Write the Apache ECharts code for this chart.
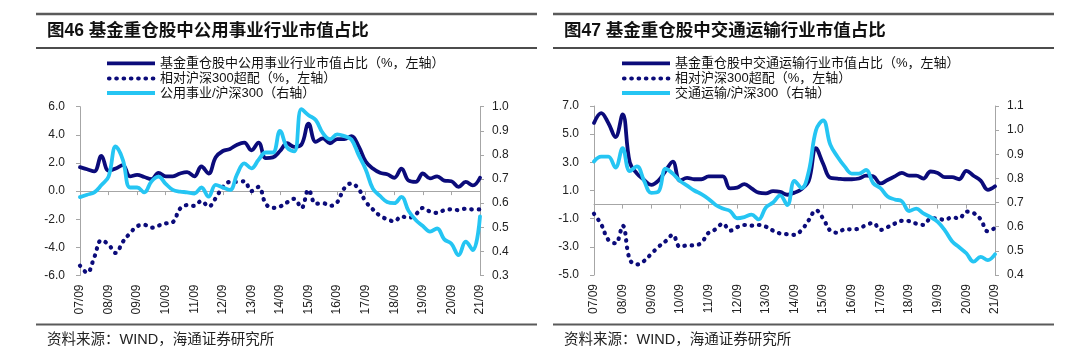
<!DOCTYPE html>
<html><head><meta charset="utf-8">
<script src="https://cdn.jsdelivr.net/npm/echarts@6/dist/echarts.min.js"></script>
<style>html,body{margin:0;padding:0;background:#fff;}#c{width:1080px;height:355px;}</style>
</head><body><div id="c"></div>
<script>
// ---------- DATA ----------
const quarters = ['07/09','07/12','08/03','08/06','08/09','08/12','09/03','09/06','09/09','09/12',
'10/03','10/06','10/09','10/12','11/03','11/06','11/09','11/12','12/03','12/06','12/09','12/12',
'13/03','13/06','13/09','13/12','14/03','14/06','14/09','14/12','15/03','15/06','15/09','15/12',
'16/03','16/06','16/09','16/12','17/03','17/06','17/09','17/12','18/03','18/06','18/09','18/12',
'19/03','19/06','19/09','19/12','20/03','20/06','20/09','20/12','21/03','21/06','21/09'];

// 图46 公用事业
const utilShare = [1.7,1.55,1.4,2.5,1.45,1.6,1.85,1.05,1.15,1.0,0.85,1.3,1.05,1.05,1.25,1.35,1.05,1.75,1.25,2.4,
2.85,3.0,3.3,3.45,2.9,3.45,2.35,2.4,2.85,3.4,3.15,3.3,4.8,3.5,3.75,3.4,3.7,3.7,3.9,3.2,
2.1,1.6,1.3,1.2,0.95,1.6,0.75,0.65,1.25,0.9,1.05,0.75,0.7,0.3,0.65,0.4,0.95];
const utilRelative = [-5.3,-5.8,-4.7,-3.5,-3.8,-4.4,-3.6,-3.0,-2.5,-2.4,-2.6,-2.45,-2.3,-2.2,-1.25,-1.0,-1.05,-0.7,-1.1,-0.5,
0.3,0.65,0.65,0.7,0.0,0.3,-0.9,-1.2,-1.1,-0.8,-0.55,-1.2,0.1,-0.9,-0.85,-1.05,-0.8,0.2,0.55,0.15,
-0.75,-1.3,-1.75,-2.0,-2.15,-1.8,-1.9,-1.65,-1.2,-1.45,-1.55,-1.35,-1.3,-1.35,-1.25,-1.3,-1.3];
const utilRatio = [0.625,0.635,0.645,0.675,0.71,0.835,0.78,0.665,0.665,0.645,0.69,0.71,0.68,0.655,0.648,0.645,0.64,0.665,0.627,0.676,
0.665,0.655,0.72,0.765,0.744,0.78,0.81,0.81,0.9,0.83,0.815,0.99,0.965,0.945,0.89,0.865,0.885,0.878,0.864,0.80,
0.74,0.66,0.63,0.605,0.6,0.626,0.568,0.53,0.505,0.482,0.495,0.45,0.432,0.385,0.44,0.405,0.545];

// 图47 交通运输
const transShare = [5.8,6.5,5.8,4.8,6.4,3.0,2.2,1.75,1.4,1.7,2.4,3.05,1.7,1.9,1.8,1.8,2.0,2.0,2.0,1.15,
1.2,1.45,1.15,0.85,0.8,0.95,0.9,0.7,0.85,1.1,1.7,4.0,2.9,1.9,1.85,1.8,1.8,1.85,2.05,2.0,
1.5,1.75,2.0,2.25,2.05,2.05,1.85,2.35,2.25,1.95,1.95,1.8,2.4,2.05,1.7,1.05,1.3];
const transRelative = [-0.65,-1.4,-2.5,-2.75,-1.5,-3.9,-4.25,-4.0,-3.5,-3.0,-2.6,-2.15,-3.0,-2.9,-2.9,-2.7,-2.0,-1.75,-1.35,-1.85,
-1.6,-1.45,-1.5,-1.45,-1.57,-1.85,-2.05,-2.1,-2.15,-1.8,-1.1,-0.4,-1.0,-1.85,-2.0,-1.76,-1.76,-1.7,-1.45,-1.3,
-1.8,-1.6,-1.35,-1.15,-1.17,-1.35,-1.45,-1.0,-0.98,-1.1,-0.9,-0.98,-0.5,-0.6,-1.05,-1.9,-1.65];
const transRatio = [0.87,0.89,0.89,0.845,0.925,0.83,0.85,0.79,0.74,0.745,0.84,0.82,0.79,0.77,0.75,0.735,0.715,0.69,0.675,0.665,
0.635,0.64,0.65,0.63,0.68,0.70,0.73,0.69,0.79,0.76,0.83,1.0,1.04,0.94,0.89,0.85,0.82,0.82,0.835,0.78,
0.76,0.725,0.713,0.705,0.665,0.675,0.655,0.64,0.62,0.585,0.54,0.515,0.49,0.455,0.475,0.462,0.486];

const ticksLeftB = [-5,-3,-1,1,3,5,7];

// ---------- STYLE ----------
const NAVY = '#0b0b7a';
const CYAN = '#25c5f3';
const AXIS = '#a6a6a6';
const LATIN = "'Liberation Sans','Noto Sans CJK SC',sans-serif";

const chart = echarts.init(document.getElementById('c'), null, {renderer:'canvas'});

function xAxes(g, onZeroIdx){
  return [
    {gridIndex:g, type:'category', data:quarters, boundaryGap:false, position:'bottom',
     axisLine:{show:false, onZero:false}, axisTick:{show:false},
     axisLabel:{interval:3, rotate:90, margin:9, fontSize:12, color:'#222', fontFamily:LATIN}},
    {gridIndex:g, type:'category', data:quarters, boundaryGap:false, position:'bottom',
     axisLine:{show:true, onZero:true, onZeroAxisIndex:onZeroIdx, lineStyle:{color:AXIS, width:1}},
     axisTick:{show:true, interval:3, length:4, lineStyle:{color:AXIS}},
     axisLabel:{show:false}, splitLine:{show:false}}
  ];
}
function yAxis(g, pos, min, max, interval, margin, custom){
  const a = {gridIndex:g, type:'value', position:pos, min:min, max:max, interval:interval,
    axisLine:{show:true, lineStyle:{color:AXIS, width:1}},
    axisTick:{show:true, length:4, lineStyle:{color:AXIS}},
    splitLine:{show:false},
    axisLabel:{margin:margin, fontSize:12, color:'#222', fontFamily:LATIN,
      formatter:function(v){return (Math.round(v*10)/10).toFixed(1);}}};
  if (custom){ a.axisLabel.customValues = custom; a.axisTick.customValues = custom; }
  return a;
}
function solid(data, xi, yi, color){
  return {type:'line', data:data, xAxisIndex:xi, yAxisIndex:yi, symbol:'none', smooth:0.4,
    lineStyle:{color:color, width:3.8, cap:'round', join:'round'}};
}
function dotted(data, xi, yi){
  return {type:'line', data:data, xAxisIndex:xi, yAxisIndex:yi, symbol:'none', smooth:0.4,
    lineStyle:{color:NAVY, width:4.2, type:[0.5,6.8], cap:'round'}};
}

function panel(ox, title, legendTexts, lx){
  const els = [];
  els.push({type:'line', shape:{x1:ox, y1:14, x2:ox+501, y2:14}, style:{stroke:'#5a5a5a', lineWidth:2.5}});
  els.push({type:'line', shape:{x1:ox, y1:48, x2:ox+501, y2:48}, style:{stroke:'#111', lineWidth:1.4}});
  els.push({type:'line', shape:{x1:ox, y1:324.5, x2:ox+501, y2:324.5}, style:{stroke:'#5a5a5a', lineWidth:2}});
  els.push({type:'text', x:ox+11, y:31.5, style:{text:title, font:"bold 17.5px "+LATIN, fill:'#111', align:'left', verticalAlign:'middle'}});
  els.push({type:'text', x:ox+11, y:339.5, style:{text:'资料来源：WIND，海通证券研究所', font:"14.5px "+LATIN, fill:'#222', align:'left', verticalAlign:'middle'}});
  const rows = [63.3, 78.5, 93];
  els.push({type:'line', shape:{x1:lx, y1:rows[0], x2:lx+48, y2:rows[0]}, style:{stroke:NAVY, lineWidth:3.8}});
  els.push({type:'line', shape:{x1:lx+2, y1:rows[1], x2:lx+48, y2:rows[1]}, style:{stroke:NAVY, lineWidth:4.2, lineDash:[0.5,6.8], lineCap:'round'}});
  els.push({type:'line', shape:{x1:lx, y1:rows[2], x2:lx+48, y2:rows[2]}, style:{stroke:CYAN, lineWidth:3.8}});
  for (let i=0;i<3;i++){
    els.push({type:'text', x:lx+53, y:rows[i], style:{text:legendTexts[i], font:"13px "+LATIN, fill:'#111', align:'left', verticalAlign:'middle'}});
  }
  return els;
}

const graphics = [].concat(
  panel(36, '图46 基金重仓股中公用事业行业市值占比',
    ['基金重仓股中公用事业行业市值占比（%，左轴）','相对沪深300超配（%，左轴）','公用事业/沪深300（右轴）'], 107),
  panel(553, '图47 基金重仓股中交通运输行业市值占比',
    ['基金重仓股中交通运输行业市值占比（%，左轴）','相对沪深300超配（%，左轴）','交通运输/沪深300（右轴）'], 622)
);

chart.setOption({
  animation:false,
  backgroundColor:'#fff',
  grid:[
    {left:80, top:106.7, width:400, height:168.8},
    {left:594, top:106, width:401, height:169}
  ],
  xAxis:[].concat(xAxes(0,0), xAxes(1,2)),
  yAxis:[
    yAxis(0,'left',-6,6,2,15),
    yAxis(0,'right',0.3,1.0,0.1,12),
    yAxis(1,'left',-5,7,2,15,ticksLeftB),
    yAxis(1,'right',0.4,1.1,0.1,12)
  ],
  series:[
    solid(utilShare,0,0,NAVY),
    dotted(utilRelative,0,0),
    solid(utilRatio,0,1,CYAN),
    solid(transShare,2,2,NAVY),
    dotted(transRelative,2,2),
    solid(transRatio,2,3,CYAN)
  ],
  graphic:graphics
});
</script>
</body></html>
